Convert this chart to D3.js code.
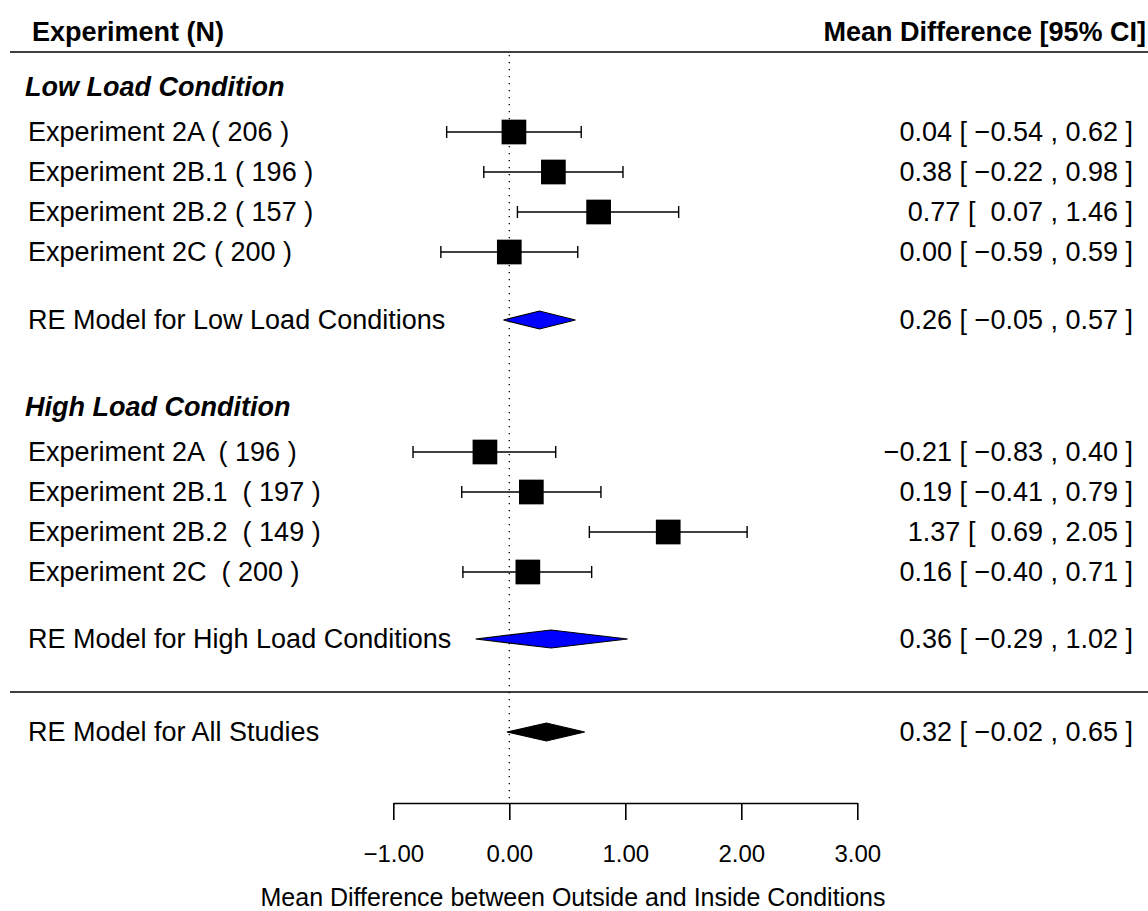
<!DOCTYPE html>
<html>
<head>
<meta charset="utf-8">
<script src="https://cdn.jsdelivr.net/npm/d3@7"></script>
<style>
  html, body { margin: 0; padding: 0; background: #fff; }
  svg { display: block; }
  text { font-family: "Liberation Sans", Arial, Helvetica, sans-serif; fill: #000; white-space: pre; }
</style>
</head>
<body>
<svg id="chart" width="1148" height="911"></svg>
<script>
// ---------------- DATA ----------------
const lowLabels = ["Experiment 2A ( 206 )", "Experiment 2B.1 ( 196 )", "Experiment 2B.2 ( 157 )", "Experiment 2C ( 200 )"];
const lowEst = [0.04, 0.38, 0.77, 0.00];
const lowLo  = [-0.54, -0.22, 0.07, -0.59];
const lowHi  = [0.62, 0.98, 1.46, 0.59];

const highLabels = ["Experiment 2A  ( 196 )", "Experiment 2B.1  ( 197 )", "Experiment 2B.2  ( 149 )", "Experiment 2C  ( 200 )"];
const highEst = [-0.21, 0.19, 1.37, 0.16];
const highLo  = [-0.83, -0.41, 0.69, -0.40];
const highHi  = [0.40, 0.79, 2.05, 0.71];

const summaryLabels = ["RE Model for Low Load Conditions", "RE Model for High Load Conditions", "RE Model for All Studies"];
const summaryEst = [0.26, 0.36, 0.32];
const summaryLo  = [-0.05, -0.29, -0.02];
const summaryHi  = [0.57, 1.02, 0.65];
const summaryColors = ["#0000ff", "#0000ff", "#000000"];

const groupHeadings = ["Low Load Condition", "High Load Condition"];
const tickValues = [-1, 0, 1, 2, 3];
const headerLeft = "Experiment (N)";
const headerRight = "Mean Difference [95% CI]";
const xAxisTitle = "Mean Difference between Outside and Inside Conditions";

// ---------------- LAYOUT ----------------
const svg = d3.select("#chart");
const W = 1148, H = 911;
const x = d3.scaleLinear().domain([-1, 3]).range([393.3, 857.3]);
// row units (metafor-like, bottom up)
const y = d3.scaleLinear().domain([-1, 16]).range([732, 52]);

const lowRows = [14, 13, 12, 11];
const highRows = [6, 5, 4, 3];
const summaryRows = [9.3, 1.325, -1];
const headingRows = [15.125, 7.125];
const headerRow = 16.5;
const axisRow = -2.775;

const fs = 27;
const labelX = 28;
const annotX = 1133;

const minus = v => (v < 0 ? "\u2212" : "") + Math.abs(v).toFixed(2);
const fmtLo = v => (v < 0 ? "\u2212" : " ") + Math.abs(v).toFixed(2);
const annot = (e, l, h) => `${minus(e)} [ ${fmtLo(l)} , ${minus(h)} ]`;

// header
svg.append("text").attr("x", 32).attr("y", y(headerRow)).attr("dy", "0.35em")
  .attr("font-size", fs).attr("font-weight", "bold").text(headerLeft);
svg.append("text").attr("x", 1146).attr("y", y(headerRow)).attr("dy", "0.35em")
  .attr("text-anchor", "end").attr("font-size", fs).attr("font-weight", "bold").text(headerRight);

// horizontal separator lines
[16, 0].forEach(r => {
  svg.append("line").attr("x1", 10).attr("x2", W).attr("y1", y(r)).attr("y2", y(r))
    .attr("stroke", "#000").attr("stroke-width", 1.6);
});

// reference dotted line
svg.append("line").attr("x1", x(0)).attr("x2", x(0)).attr("y1", y(16) + 3).attr("y2", y(axisRow))
  .attr("stroke", "#000").attr("stroke-width", 1.3).attr("stroke-dasharray", "1.3,5.7");

// group headings
groupHeadings.forEach((g, i) => {
  svg.append("text").attr("x", 25).attr("y", y(headingRows[i])).attr("dy", "0.35em")
    .attr("font-size", fs).attr("font-weight", "bold").attr("font-style", "italic").text(g);
});

// studies
function drawStudies(labels, est, lo, hi, rows) {
  const g = svg.append("g");
  labels.forEach((lab, i) => {
    const yy = y(rows[i]);
    g.append("text").attr("x", labelX).attr("y", yy).attr("dy", "0.35em").attr("font-size", fs).text(lab);
    g.append("line").attr("x1", x(lo[i])).attr("x2", x(hi[i])).attr("y1", yy).attr("y2", yy)
      .attr("stroke", "#000").attr("stroke-width", 1.4);
    [lo[i], hi[i]].forEach(v => {
      g.append("line").attr("x1", x(v)).attr("x2", x(v)).attr("y1", yy - 6).attr("y2", yy + 6)
        .attr("stroke", "#000").attr("stroke-width", 1.4);
    });
    const s = 24.7;
    g.append("rect").attr("x", x(est[i]) - s / 2).attr("y", yy - s / 2).attr("width", s).attr("height", s)
      .attr("fill", "#000");
    g.append("text").attr("x", annotX).attr("y", yy).attr("dy", "0.35em").attr("text-anchor", "end")
      .attr("font-size", fs).text(annot(est[i], lo[i], hi[i]));
  });
}
drawStudies(lowLabels, lowEst, lowLo, lowHi, lowRows);
drawStudies(highLabels, highEst, highLo, highHi, highRows);

// summary diamonds
summaryLabels.forEach((lab, i) => {
  const yy = y(summaryRows[i]);
  const h = 9;
  svg.append("text").attr("x", labelX).attr("y", yy).attr("dy", "0.35em").attr("font-size", fs).text(lab);
  svg.append("polygon")
    .attr("points", [[x(summaryLo[i]), yy], [x(summaryEst[i]), yy - h], [x(summaryHi[i]), yy], [x(summaryEst[i]), yy + h]].map(p => p.join(",")).join(" "))
    .attr("fill", summaryColors[i]).attr("stroke", "#000").attr("stroke-width", 1.2);
  svg.append("text").attr("x", annotX).attr("y", yy).attr("dy", "0.35em").attr("text-anchor", "end")
    .attr("font-size", fs).text(annot(summaryEst[i], summaryLo[i], summaryHi[i]));
});

// x axis
const axis = d3.axisBottom(x).tickValues(tickValues).tickSize(17).tickSizeOuter(0).tickPadding(25)
  .tickFormat(d => minus(d));
const ax = svg.append("g").attr("transform", `translate(0,${y(axisRow)})`).call(axis);
ax.attr("font-size", 24).attr("font-family", null);
ax.selectAll("path.domain").attr("stroke", "#000").attr("stroke-width", 1.6);
ax.selectAll(".tick line").attr("stroke", "#000").attr("stroke-width", 1.6);
ax.selectAll(".tick text").attr("font-size", 24).attr("fill", "#000");

svg.append("text").attr("x", 573).attr("y", 906).attr("text-anchor", "middle")
  .attr("font-size", 25).text(xAxisTitle);
</script>
</body>
</html>
